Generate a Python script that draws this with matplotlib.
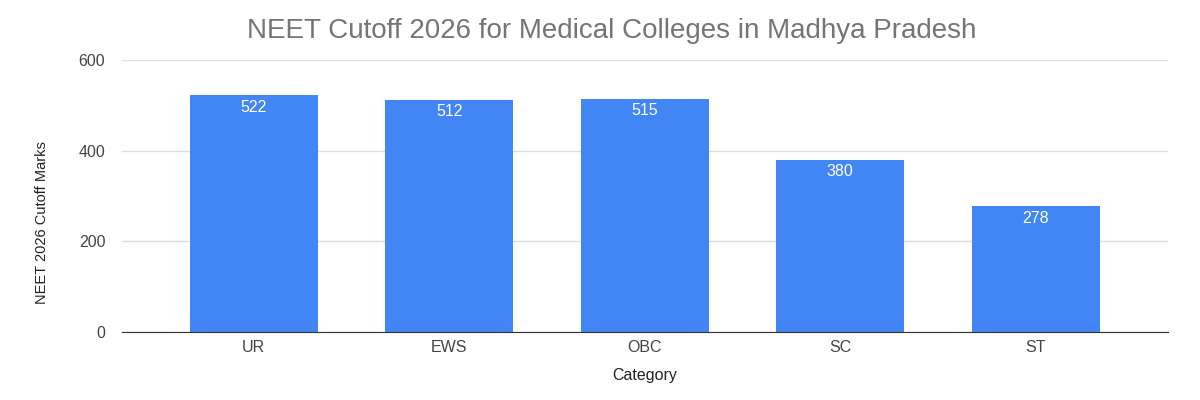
import numpy as np
import matplotlib.pyplot as plt

categories = ["UR", "EWS", "OBC", "SC", "ST"]
cutoffs = [522, 512, 515, 380, 278]
yticks = [0, 200, 400, 600]

plt.rcParams['font.family'] = ['Liberation Sans', 'DejaVu Sans']

fig = plt.figure(figsize=(12, 4), dpi=100)
ax = fig.add_axes([0.1017, 0.17, 0.8713, 0.68])

x = np.arange(len(categories))
bars = ax.bar(x, cutoffs, width=0.655, color='#4285F4', zorder=3)
for b, v in zip(bars, cutoffs):
    ax.text(b.get_x() + b.get_width() / 2, v - 10, str(v), ha='center', va='top',
            color='white', fontsize=11.5, zorder=4)

ax.set_xlim(-0.674, len(categories) - 1 + 0.674)
ax.set_ylim(0, 600)
ax.set_yticks(yticks)
ax.set_xticks(x)
ax.set_xticklabels(categories)
ax.tick_params(axis='both', length=0, labelsize=11.5, labelcolor='#444444')
ax.tick_params(axis='y', pad=12)
ax.tick_params(axis='x', pad=6)
ax.grid(axis='y', color='#dddddd', linewidth=1, zorder=0)
for s in ['top', 'right', 'left']:
    ax.spines[s].set_visible(False)
ax.spines['bottom'].set_color('#333333')
ax.spines['bottom'].set_zorder(5)

ax.set_xlabel("Category", fontsize=11.5, color='#222222', labelpad=9)
ax.set_ylabel("NEET 2026 Cutoff Marks", fontsize=10.5, color='#222222')
ax.yaxis.set_label_coords(-0.07, 0.404)
fig.suptitle("NEET Cutoff 2026 for Medical Colleges in Madhya Pradesh", fontsize=20,
             color='#757575', x=0.51, y=0.955, va='top')

fig.savefig("out.png", dpi=100)
